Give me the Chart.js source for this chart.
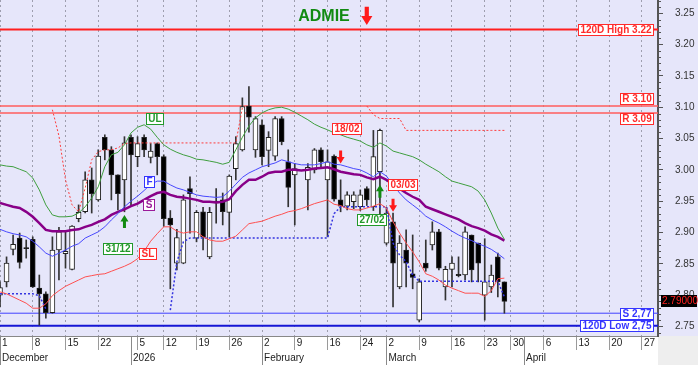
<!DOCTYPE html>
<html>
<head>
<meta charset="utf-8">
<script src="https://cdn.jsdelivr.net/npm/chart.js@4.4.1/dist/chart.umd.min.js"></script>
<style>
  html, body { margin: 0; padding: 0; background: #fff; }
</style>
</head>
<body>
<canvas id="chart" width="698" height="365"></canvas>
<script>
// trading-day index 0 = 1 Dec 2025, 77 = 27 Mar 2026
const opens = [2.800,2.821,2.873,2.891,2.876,2.889,2.811,2.802,2.772,2.872,
  2.866,2.841,2.922,2.933,2.984,2.952,3.052,3.032,2.992,2.984,
  3.052,3.021,3.052,3.020,3.042,3.021,2.923,2.851,2.851,2.970,
  2.891,2.933,2.861,2.950,2.952,2.932,3.002,3.032,3.102,3.032,
  3.072,3.031,3.022,3.082,3.013,2.992,null,2.984,3.000,3.032,
  2.984,3.022,2.952,2.942,2.949,2.941,2.970,2.941,2.997,2.883,
  2.917,2.813,2.872,2.834,2.760,2.851,2.880,2.901,2.813,2.841,
  2.833,2.832,2.896,2.883,2.800,2.813,2.861,2.821];
const highs = [2.821,2.861,2.896,2.899,2.888,2.893,2.832,2.805,2.893,2.908,
  2.901,2.911,2.944,2.997,3.003,3.032,3.056,3.037,2.992,3.053,
  3.056,3.053,3.056,3.042,3.043,3.024,2.935,2.905,2.960,2.989,
  2.935,2.940,2.940,2.970,2.963,2.992,3.053,3.115,3.133,3.085,
  3.080,3.061,3.085,3.085,3.032,3.010,null,3.010,3.034,3.035,
  3.032,3.024,2.984,2.965,2.965,2.968,2.973,3.063,3.065,2.940,
  2.931,2.895,2.904,2.896,2.826,2.888,2.917,2.905,2.846,2.861,
  2.861,2.909,2.896,2.883,2.890,2.848,2.867,2.821];
const lows = [2.781,2.813,2.864,2.843,2.859,2.812,2.752,2.763,2.771,2.824,
  2.843,2.840,2.917,2.931,2.931,2.950,3.016,2.952,2.936,2.933,
  2.941,3.005,3.021,3.011,2.992,2.910,2.810,2.840,2.850,2.899,
  2.885,2.872,2.858,2.915,2.912,2.893,2.984,3.030,3.060,3.020,
  3.008,3.005,3.015,3.040,2.941,2.912,null,2.936,2.995,3.005,
  2.893,2.950,2.933,2.936,2.938,2.935,2.943,2.935,2.930,2.880,
  2.781,2.810,2.813,2.810,2.757,2.838,2.872,2.840,2.792,2.813,
  2.829,2.824,2.821,2.821,2.760,2.804,2.797,2.771];
const closes = [2.812,2.851,2.881,2.852,2.874,2.813,2.802,2.772,2.872,2.901,
  2.870,2.910,2.932,2.984,2.962,3.022,3.032,2.992,2.962,3.043,
  3.024,3.042,3.032,3.030,3.021,2.922,2.912,2.892,2.952,2.962,
  2.932,2.893,2.932,2.947,2.933,2.990,3.042,3.101,3.084,3.082,
  3.021,3.052,3.082,3.045,2.972,3.002,null,3.004,3.032,3.013,
  3.013,2.953,2.942,2.960,2.960,2.960,2.952,3.021,3.063,2.931,
  2.851,2.883,2.851,2.828,2.821,2.843,2.901,2.843,2.841,2.851,
  2.831,2.901,2.840,2.851,2.821,2.832,2.821,2.790];

const upperBand = [3.008,3.006,3.005,3.001,2.997,2.987,2.968,2.944,2.928,2.925,
  2.925,2.926,2.931,2.941,2.955,2.973,3.005,3.024,3.028,3.040,
  3.059,3.068,3.072,3.065,3.052,3.040,3.033,3.028,3.024,3.021,
  3.017,3.016,3.014,3.012,3.009,3.012,3.032,3.052,3.070,3.083,
  3.091,3.096,3.099,3.100,3.097,3.092,3.086,3.080,3.073,3.068,
  3.064,3.059,3.056,3.052,3.049,3.046,3.040,3.036,3.043,3.038,
  3.030,3.027,3.024,3.021,3.016,3.009,3.003,2.997,2.989,2.982,
  2.979,2.976,2.973,2.966,2.952,2.931,2.907,2.889];
const fastMA = [2.905,2.901,2.898,2.896,2.893,2.886,2.877,2.867,2.862,2.867,
  2.872,2.878,2.882,2.891,2.896,2.901,2.909,2.920,2.930,2.941,
  2.950,2.958,2.967,2.977,2.982,2.982,2.976,2.971,2.968,2.964,
  2.960,2.958,2.957,2.956,2.957,2.966,2.977,2.988,2.995,3.000,
  3.005,3.008,3.011,3.016,3.013,3.010,3.008,3.008,3.008,3.010,
  3.013,3.009,3.008,3.005,3.002,3.000,2.995,2.989,2.997,2.990,
  2.976,2.963,2.952,2.944,2.936,2.926,2.920,2.915,2.909,2.902,
  2.896,2.891,2.887,2.882,2.878,2.873,2.866,2.858];
const slowMA = [2.947,2.944,2.941,2.939,2.933,2.925,2.915,2.904,2.902,2.902,
  2.902,2.904,2.905,2.909,2.912,2.917,2.921,2.928,2.933,2.937,
  2.942,2.946,2.952,2.958,2.963,2.965,2.960,2.957,2.956,2.954,
  2.952,2.949,2.949,2.948,2.949,2.953,2.966,2.976,2.984,2.984,
  2.989,2.995,2.997,2.997,3.000,3.000,2.999,3.000,3.002,3.003,
  3.004,3.001,2.997,2.995,2.993,2.992,2.988,2.985,2.989,2.984,
  2.977,2.970,2.963,2.957,2.952,2.941,2.937,2.933,2.929,2.925,
  2.921,2.915,2.910,2.907,2.903,2.897,2.893,2.887];
const lowerBand = [2.805,2.802,2.797,2.792,2.787,2.779,2.779,2.786,2.799,2.807,
  2.814,2.819,2.824,2.829,2.831,2.833,2.834,2.838,2.842,2.846,
  2.851,2.858,2.870,2.886,2.898,2.909,2.909,2.902,2.899,2.901,
  2.901,2.893,2.888,2.886,2.886,2.890,2.894,2.904,2.914,2.916,
  2.918,2.922,2.926,2.929,2.933,2.935,2.938,2.942,2.946,2.949,
  2.952,2.945,2.943,2.938,2.936,2.936,2.939,2.942,2.946,2.939,
  2.917,2.899,2.883,2.869,2.853,2.834,2.830,2.824,2.816,2.811,
  2.807,2.803,2.803,2.803,2.798,2.807,2.826,2.827];
const resistTrail = [null,null,null,null,null,null,null,null,3.096,3.054,
  2.984,2.944,2.933,2.971,3.016,3.029,3.032,3.032,3.035,3.042,
  3.043,3.043,3.043,3.043,3.043,3.043,3.043,3.043,3.043,3.043,
  3.043,3.043,3.043,3.043,3.043,3.043,3.043,3.099,null,null,
  null,null,null,null,null,null,null,null,null,null,
  null,null,null,null,null,null,3.102,3.088,3.082,3.082,
  3.082,3.082,3.063,3.063,3.063,3.063,3.063,3.063,3.063,3.063,
  3.063,3.063,3.063,3.063,3.063,3.063,3.063,3.063];
const supportTrail = [2.802,2.802,2.802,2.802,2.802,2.802,2.799,2.778,null,null,
  null,null,null,null,null,null,null,null,null,null,
  null,null,null,null,null,null,2.776,2.853,2.885,2.891,
  2.891,2.891,2.891,2.891,2.891,2.891,2.891,2.891,2.891,2.891,
  2.891,2.891,2.891,2.891,2.891,2.891,2.891,2.891,2.891,2.891,
  2.891,2.930,2.941,2.941,2.941,2.941,2.941,2.941,2.941,2.941,
  2.883,2.864,2.853,2.832,2.822,2.822,2.822,2.822,2.822,2.822,
  2.822,2.822,2.822,2.822,2.822,2.822,2.822,2.797];

const weekTickIdx = [0,5,10,15,21,25,30,35,40,45,50,55,59,64,69,74,78,83,88,93,98];
const weekTickLabels = ['1','8','15','22','5','12','19','26','2','9','16','24','2','9','16','23','30','6','13','20','27'];
const monthTickIdx = [0,20,40,59,80];
const monthLabels = ['December','2026','February','March','April'];
const yTickValues = [2.75,2.80,2.85,2.90,2.95,3.00,3.05,3.10,3.15,3.20,3.25];

const levelValues = [3.224, 3.102, 3.091, 2.771, 2.751];
const levelLabels = ['120D High 3.22', 'R 3.10', 'R 3.09', 'S 2,77', '120D Low 2,75'];

const signalIdx = [19, 52, 58, 60];
const signalDir = ['up', 'down', 'up', 'down'];
const signalTip = [2.928, 3.010, 2.976, 2.933];
const signalLabels = ['31/12', '18/02', '27/02', '03/03'];
const signalLabelIdx = [18.0, 52.9, 56.7, 61.5];
const signalLabelVal = [2.875, 3.066, 2.921, 2.976];

const seriesTags = ['UL', 'F', 'S', 'SL'];
const seriesTagIdx = [23.6, 22.7, 22.6, 22.5];
const seriesTagVal = [3.082, 2.981, 2.945, 2.866];

const FONT = '"Liberation Sans", Arial, sans-serif';
const GREEN = '#22992a', RED = '#ff2b2b', BLUE = '#3535ff', PURPLE = '#9a1a9a';

const idx = opens.map((_, i) => i).filter(i => opens[i] !== null);
const pts = arr => arr.map((v, i) => ({ x: i, y: v }));

function lineSet(label, values, color, width, dash) {
  return {
    type: 'line', label, data: pts(values),
    borderColor: color, borderWidth: width, borderDash: dash || [],
    pointRadius: 0, spanGaps: false, tension: 0, order: 0
  };
}

function tagBox(ctx, text, x, cy, color, anchor) {
  ctx.font = 'bold 10px ' + FONT;
  const w = Math.round(ctx.measureText(text).width + 4), h = 11;
  const left = Math.round(anchor === 'right' ? x - w : x - w / 2);
  const top = Math.round(cy - h / 2);
  ctx.fillStyle = '#ffffff';
  ctx.fillRect(left + 0.5, top + 0.5, w, h);
  ctx.strokeStyle = color; ctx.lineWidth = 1;
  ctx.strokeRect(left + 0.5, top + 0.5, w, h);
  ctx.fillStyle = color; ctx.textAlign = 'center'; ctx.textBaseline = 'middle';
  ctx.fillText(text, left + 0.5 + w / 2, top + 1 + h / 2);
}

function arrow(ctx, cx, tipY, dir, color, size) {
  const len = 13 * size, head = 6.5 * size, hw = 4 * size, sw = 1.5 * size;
  const s = dir === 'up' ? 1 : -1;
  ctx.fillStyle = color;
  ctx.beginPath();
  ctx.moveTo(cx, tipY);
  ctx.lineTo(cx + hw, tipY + s * head);
  ctx.lineTo(cx + sw, tipY + s * head);
  ctx.lineTo(cx + sw, tipY + s * len);
  ctx.lineTo(cx - sw, tipY + s * len);
  ctx.lineTo(cx - sw, tipY + s * head);
  ctx.lineTo(cx - hw, tipY + s * head);
  ctx.closePath();
  ctx.fill();
}

const levelStyle = [
  { color: '#ff1f1f', width: 2, shift: 0, text: RED },
  { color: '#ff5c5c', width: 1.5, shift: -7, text: RED },
  { color: '#ff5c5c', width: 1.5, shift: 6, text: RED },
  { color: '#4040ff', width: 1, shift: 0, text: BLUE },
  { color: '#1515d5', width: 2, shift: 0, text: BLUE }
];

const overlay = {
  id: 'overlay',
  beforeDraw(chart) {
    const { ctx, chartArea: a, width, height } = chart;
    ctx.save();
    ctx.fillStyle = '#e6e6fa';
    ctx.fillRect(0, 0, width, height);
    ctx.fillStyle = '#ffffff';
    ctx.fillRect(0, a.bottom, a.right, height - a.bottom);
    ctx.fillStyle = '#eeeeee';
    ctx.fillRect(a.right, a.bottom, width - a.right, height - a.bottom);
    ctx.restore();
  },
  beforeDatasetsDraw(chart) {
    const { ctx, chartArea: a, scales: { y } } = chart;
    ctx.save();
    levelValues.forEach((v, k) => {
      const py = y.getPixelForValue(v);
      ctx.strokeStyle = levelStyle[k].color;
      ctx.lineWidth = levelStyle[k].width;
      ctx.beginPath(); ctx.moveTo(a.left, py); ctx.lineTo(a.right, py); ctx.stroke();
    });
    ctx.restore();
  },
  afterDatasetsDraw(chart) {
    const { ctx, chartArea: a, scales: { x, y } } = chart;
    ctx.save();
    levelValues.forEach((v, k) => {
      const py = y.getPixelForValue(v) + levelStyle[k].shift;
      tagBox(ctx, levelLabels[k], a.right - 5.5, py, levelStyle[k].text, 'right');
    });
    const tagColors = [GREEN, BLUE, PURPLE, RED];
    seriesTags.forEach((t, k) => {
      tagBox(ctx, t, x.getPixelForValue(seriesTagIdx[k]), y.getPixelForValue(seriesTagVal[k]), tagColors[k]);
    });
    signalIdx.forEach((i, k) => {
      const col = signalDir[k] === 'up' ? '#118a11' : '#ff1a1a';
      arrow(ctx, x.getPixelForValue(i), y.getPixelForValue(signalTip[k]), signalDir[k], col, 1);
      tagBox(ctx, signalLabels[k], x.getPixelForValue(signalLabelIdx[k]),
        y.getPixelForValue(signalLabelVal[k]), signalDir[k] === 'up' ? GREEN : RED);
    });
    ctx.restore();
  },
  afterDraw(chart) {
    const { ctx, chartArea: a, scales: { x, x2, y }, height } = chart;
    ctx.save();
    // month separators through both axis rows
    ctx.strokeStyle = '#8a8a8a'; ctx.lineWidth = 1;
    monthTickIdx.forEach(i => {
      const px = Math.round(x.getPixelForValue(i)) + 0.5;
      ctx.beginPath(); ctx.moveTo(px, x.top); ctx.lineTo(px, x2.bottom); ctx.stroke();
    });
    // minor ticks on price axis
    ctx.strokeStyle = '#555';
    for (let k = 274; k <= 327; k++) {
      if (k % 5 === 0) continue;
      const py = Math.round(y.getPixelForValue(k / 100)) + 0.5;
      ctx.beginPath(); ctx.moveTo(a.right, py); ctx.lineTo(a.right + 3, py); ctx.stroke();
    }
    // title
    const cx = (a.left + a.right) / 2 - 5;
    ctx.font = 'bold 16px ' + FONT;
    ctx.fillStyle = '#118a11'; ctx.textAlign = 'center'; ctx.textBaseline = 'alphabetic';
    ctx.fillText('ADMIE', cx, 21);
    const tw = ctx.measureText('ADMIE').width;
    arrow(ctx, cx + tw / 2 + 17, 25, 'down', '#ff1a1a', 1.4);
    // last price tag
    const last = closes[closes.length - 1];
    const py = Math.round(y.getPixelForValue(last));
    ctx.fillStyle = '#000';
    ctx.fillRect(a.right + 3, py - 6, 36, 12);
    ctx.font = '10px ' + FONT;
    ctx.fillStyle = '#ff2020'; ctx.textAlign = 'left'; ctx.textBaseline = 'middle';
    ctx.fillText(last.toFixed(5), a.right + 4, py + 0.5);
    ctx.restore();
  }
};

const zeroPad = s => { s.paddingTop = 0; s.paddingBottom = 0; s.paddingLeft = 0; s.paddingRight = 0; };

new Chart(document.getElementById('chart'), {
  type: 'bar',
  data: {
    datasets: [
      lineSet('UL', upperBand, '#3f9f3f', 1),
      lineSet('F', fastMA, '#4848ff', 1),
      lineSet('S', slowMA, '#880088', 2.5),
      lineSet('SL', lowerBand, '#ff5050', 1),
      lineSet('Resistance', resistTrail, '#ff3c3c', 1, [2, 2]),
      lineSet('Support', supportTrail, '#3434e0', 1.5, [2, 2]),
      {
        label: 'Body',
        data: idx.map(i => ({ x: i, y: [opens[i], closes[i]] })),
        backgroundColor: idx.map(i => closes[i] < opens[i] ? '#000000' : '#ffffff'),
        borderColor: '#222', borderWidth: 1, borderSkipped: false,
        barThickness: 5, minBarLength: 1, grouped: false, order: 1
      },
      {
        label: 'Wick',
        data: idx.map(i => ({ x: i, y: [lows[i], highs[i]] })),
        backgroundColor: '#333', borderWidth: 0,
        barThickness: 1, grouped: false, order: 2
      }
    ]
  },
  options: {
    responsive: false,
    animation: false,
    layout: { padding: 0 },
    plugins: { legend: { display: false }, tooltip: { enabled: false } },
    scales: {
      x: {
        type: 'linear', position: 'bottom', weight: 0, min: 0, max: 100.45, offset: false,
        afterBuildTicks: s => { s.ticks = weekTickIdx.map(v => ({ value: v })); },
        afterFit: s => { s.height = 14; zeroPad(s); },
        grid: { offset: false, color: 'rgba(150,150,165,0.9)', lineWidth: 1, drawTicks: true, tickLength: 14, tickColor: '#9a9a9a' },
        border: { display: true, color: '#888', width: 1, dash: [2, 3] },
        ticks: {
          align: 'start', padding: -13, labelOffset: 2, autoSkip: false, maxRotation: 0,
          color: '#222', font: { size: 10, family: FONT },
          callback: (v, i) => weekTickLabels[i]
        }
      },
      x2: {
        type: 'linear', position: 'bottom', weight: 1, min: 0, max: 100.45, offset: false,
        afterBuildTicks: s => { s.ticks = monthTickIdx.map(v => ({ value: v })); },
        afterFit: s => { s.height = 15; zeroPad(s); },
        grid: { offset: false, drawOnChartArea: false, drawTicks: false },
        border: { display: false },
        ticks: {
          align: 'start', padding: 2, labelOffset: 2, autoSkip: false, maxRotation: 0,
          color: '#222', font: { size: 10, family: FONT },
          callback: (v, i) => monthLabels[i]
        }
      },
      y: {
        type: 'linear', position: 'right', min: 2.7346, max: 3.2713, beginAtZero: false,
        afterBuildTicks: s => { s.ticks = yTickValues.map(v => ({ value: v })); },
        afterFit: s => { s.width = 40; zeroPad(s); },
        grid: { drawOnChartArea: false, drawTicks: true, tickLength: 5, tickColor: '#555' },
        border: { display: true, color: '#555', width: 2 },
        ticks: {
          padding: 12, color: '#333', font: { size: 10, family: FONT },
          callback: v => v.toFixed(2)
        }
      }
    }
  },
  plugins: [overlay]
});
</script>
</body>
</html>
